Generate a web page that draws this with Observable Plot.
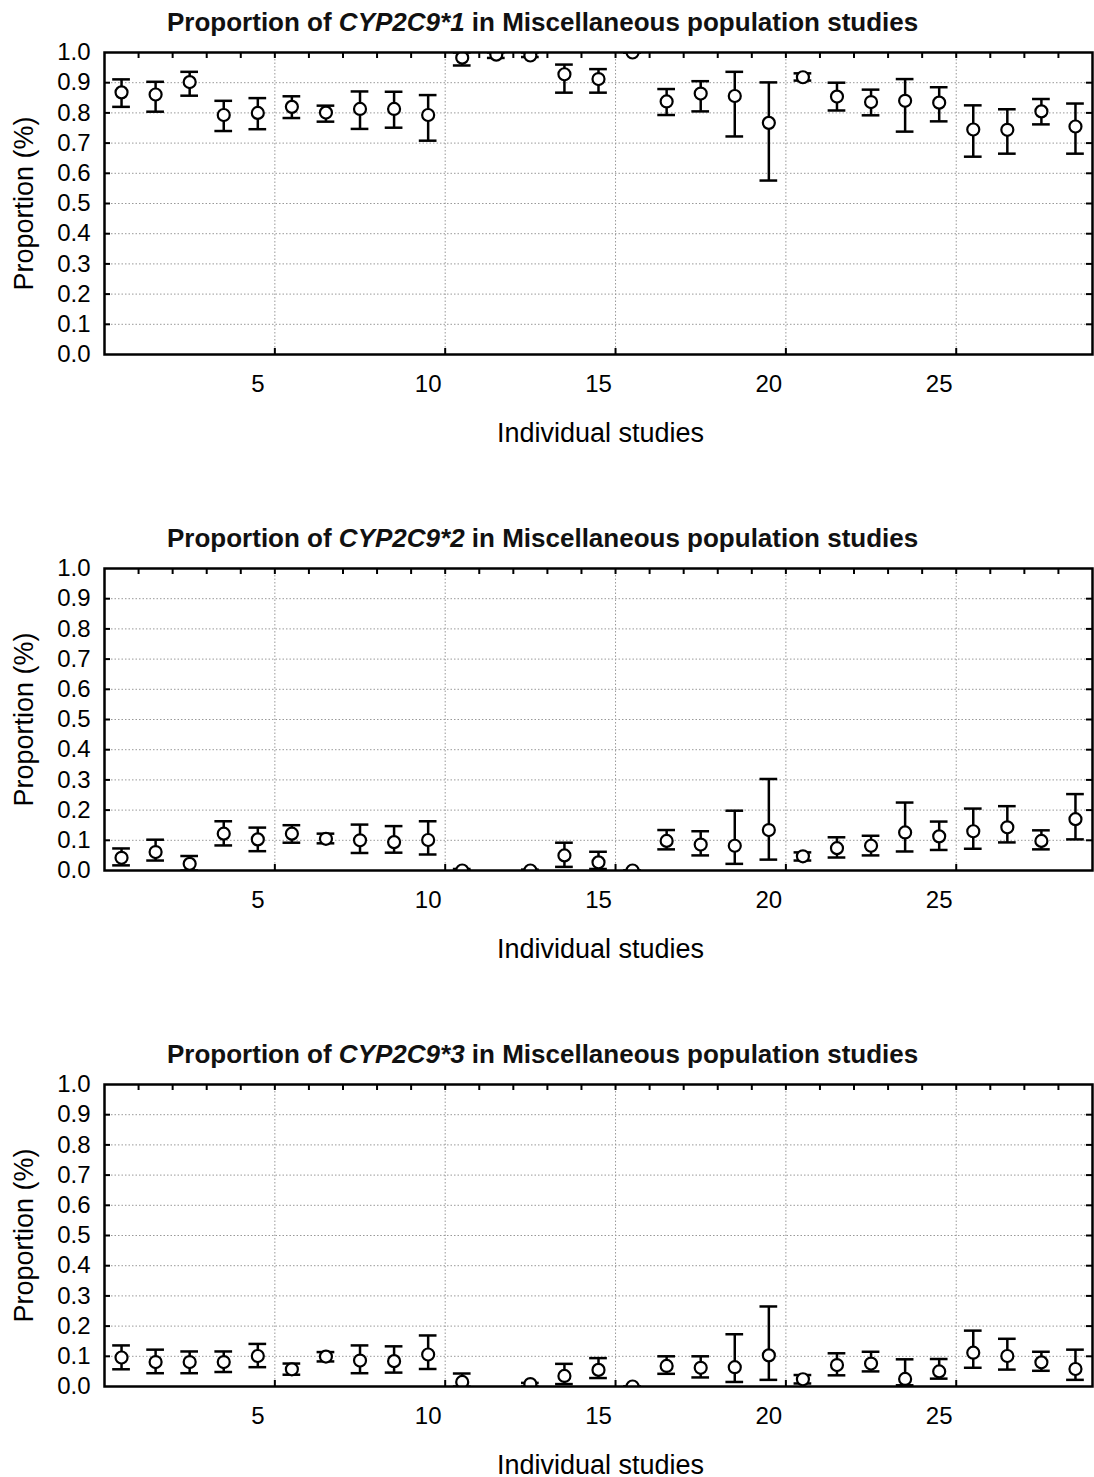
<!DOCTYPE html>
<html>
<head>
<meta charset="utf-8">
<script src="https://cdn.jsdelivr.net/npm/d3@7"></script>
<script src="https://cdn.jsdelivr.net/npm/@observablehq/plot@0.6"></script>
<style>
  html, body { margin: 0; padding: 0; background: #fff; }
  body { width: 1094px; height: 1477px; position: relative; overflow: hidden;
         font-family: "Liberation Sans", Arial, Helvetica, sans-serif; color: #000; }
  .title { position: absolute; left: 167px; font-weight: bold; font-size: 26px;
           line-height: 26px; white-space: pre; color: #111; }
  .panel svg { position: absolute; left: 0; }
</style>
</head>
<body>
<script>
// ---------------- data ----------------
const studies = [1,2,3,4,5,6,7,8,9,10,11,12,13,14,15,16,17,18,19,20,21,22,23,24,25,26,27,28,29];

// CYP2C9*1
const mean1 = [0.868,0.861,0.902,0.793,0.800,0.820,0.801,0.813,0.813,0.793,0.983,0.993,0.990,0.928,0.912,1.000,0.838,0.864,0.856,0.767,0.918,0.854,0.836,0.840,0.834,0.745,0.744,0.805,0.755];
const lo1   = [0.820,0.804,0.857,0.740,0.746,0.783,0.771,0.747,0.751,0.708,0.957,0.982,0.985,0.867,0.867,1.000,0.793,0.805,0.722,0.576,0.907,0.808,0.792,0.738,0.772,0.655,0.665,0.762,0.665];
const hi1   = [0.911,0.903,0.936,0.840,0.849,0.855,0.824,0.871,0.870,0.859,1.000,1.000,1.000,0.960,0.945,1.000,0.879,0.905,0.936,0.901,0.931,0.900,0.877,0.912,0.885,0.825,0.812,0.846,0.831];

// CYP2C9*2 (study 12 not reported)
const mean2 = [0.042,0.061,0.022,0.122,0.103,0.122,0.105,0.100,0.094,0.101,0.000,null,0.000,0.050,0.027,0.000,0.098,0.086,0.082,0.134,0.047,0.074,0.082,0.126,0.113,0.130,0.143,0.098,0.170];
const lo2   = [0.017,0.033,0.000,0.083,0.064,0.092,0.090,0.058,0.059,0.053,0.000,null,0.000,0.012,0.005,0.000,0.070,0.050,0.022,0.036,0.033,0.043,0.050,0.063,0.068,0.072,0.093,0.070,0.103];
const hi2   = [0.073,0.102,0.048,0.163,0.142,0.150,0.122,0.152,0.147,0.163,0.005,null,0.003,0.092,0.062,0.000,0.134,0.130,0.198,0.303,0.060,0.110,0.115,0.225,0.162,0.205,0.213,0.133,0.253];

// CYP2C9*3 (study 12 not reported)
const mean3 = [0.096,0.081,0.081,0.081,0.101,0.057,0.099,0.086,0.084,0.106,0.015,null,0.008,0.035,0.055,0.000,0.068,0.062,0.064,0.103,0.024,0.071,0.076,0.025,0.050,0.112,0.101,0.080,0.058];
const lo3   = [0.057,0.044,0.044,0.048,0.064,0.039,0.083,0.044,0.046,0.058,0.000,null,0.000,0.008,0.028,0.000,0.042,0.030,0.015,0.022,0.010,0.037,0.050,0.004,0.026,0.062,0.056,0.052,0.022];
const hi3   = [0.136,0.122,0.116,0.116,0.141,0.076,0.114,0.136,0.133,0.169,0.043,null,0.012,0.075,0.094,0.000,0.100,0.100,0.173,0.265,0.038,0.110,0.115,0.090,0.091,0.185,0.158,0.115,0.122];

const alleles = ["CYP2C9*1", "CYP2C9*2", "CYP2C9*3"];
const xTickLabels = [5, 10, 15, 20, 25];
const xGridLines = [5.5, 10.5, 15.5, 20.5, 25.5];
const xMinorTicks = [1.5,2.5,3.5,4.5,5.5,6.5,7.5,8.5,9.5,10.5,11.5,12.5,13.5,14.5,15.5,16.5,17.5,18.5,19.5,20.5,21.5,22.5,23.5,24.5,25.5,26.5,27.5,28.5];
const yTickLabels = [0,0.1,0.2,0.3,0.4,0.5,0.6,0.7,0.8,0.9,1.0];
const yInnerTicks = [0.1,0.2,0.3,0.4,0.5,0.6,0.7,0.8,0.9];
const xLabel = "Individual studies";
const yLabel = "Proportion (%)";

// ---------------- layout ----------------
const W = 1094;
const mL = 104, mR = 2, mT = 10, mB = 95;
const innerH = 302;
const innerW = W - mL - mR;
const frameTops = [52, 568, 1084];
const capHalf = 0.26; // half cap width in study units
const tickLen = 6;

const series = [[mean1, lo1, hi1], [mean2, lo2, hi2], [mean3, lo3, hi3]];

series.forEach(([m, lo, hi], k) => {
  const rows = studies.map((s, i) => ({study: s, mean: m[i], lo: lo[i], hi: hi[i]}))
                      .filter(d => d.mean != null);
  const panel = document.createElement("div");
  panel.className = "panel";
  document.body.appendChild(panel);

  const title = document.createElement("div");
  title.className = "title";
  title.style.top = (frameTops[k] - 43) + "px";
  title.innerHTML = "Proportion of <i>" + alleles[k] + "</i> in Miscellaneous population studies";
  panel.appendChild(title);

  const chart = Plot.plot({
    width: W,
    height: mT + innerH + mB,
    marginLeft: mL, marginRight: mR, marginTop: mT, marginBottom: mB,
    style: {fontFamily: '"Liberation Sans", Arial, sans-serif', fontSize: "24px", color: "#000", background: "transparent", overflow: "visible"},
    x: {domain: [0.5, 29.5], label: null},
    y: {domain: [0, 1], label: null},
    marks: [
      // dotted grid
      Plot.ruleY(yInnerTicks, {y: d => d, stroke: "#999", strokeWidth: 1, strokeDasharray: "1.5,2"}),
      Plot.ruleX(xGridLines, {x: d => d, stroke: "#999", strokeWidth: 1, strokeDasharray: "1.5,2"}),
      // inward tick marks
      Plot.tickY(yInnerTicks, {y: d => d, insetRight: innerW - tickLen, stroke: "#000", strokeWidth: 2}),
      Plot.tickY(yInnerTicks, {y: d => d, insetLeft: innerW - tickLen, stroke: "#000", strokeWidth: 2}),
      Plot.tickX(xMinorTicks, {x: d => d, insetBottom: innerH - tickLen, stroke: "#000", strokeWidth: 2}),
      Plot.tickX(xGridLines, {x: d => d, insetTop: innerH - tickLen, stroke: "#000", strokeWidth: 2}),
      // axes labels
      Plot.axisY(yTickLabels, {anchor: "left", tickSize: 0, tickPadding: 14, tickFormat: d3.format(".1f"), fontSize: 24, label: null}),
      Plot.axisX(xTickLabels, {anchor: "bottom", tickSize: 0, tickPadding: 20, tickFormat: d => String(d), fontSize: 24, label: null}),
      Plot.text([xLabel], {text: d => d, frameAnchor: "bottom", lineAnchor: "bottom", textAnchor: "middle", dy: 87, dx: 2, fontSize: 27}),
      Plot.text([yLabel], {text: d => d, frameAnchor: "left", lineAnchor: "bottom", textAnchor: "middle", rotate: -90, dx: -72, fontSize: 27}),
      // error bars
      Plot.ruleX(rows, {x: "study", y1: "lo", y2: "hi", stroke: "#000", strokeWidth: 2.5, clip: true}),
      Plot.ruleY(rows, {y: "lo", x1: d => d.study - capHalf, x2: d => d.study + capHalf, stroke: "#000", strokeWidth: 2.5, clip: true}),
      Plot.ruleY(rows, {y: "hi", x1: d => d.study - capHalf, x2: d => d.study + capHalf, stroke: "#000", strokeWidth: 2.5, clip: true}),
      Plot.dot(rows, {x: "study", y: "mean", r: 6, fill: "white", stroke: "#000", strokeWidth: 2.2, clip: true}),
      Plot.frame({stroke: "#000", strokeWidth: 2.5})
    ]
  });
  chart.style.top = (frameTops[k] - mT) + "px";
  panel.appendChild(chart);
});
</script>
</body>
</html>
